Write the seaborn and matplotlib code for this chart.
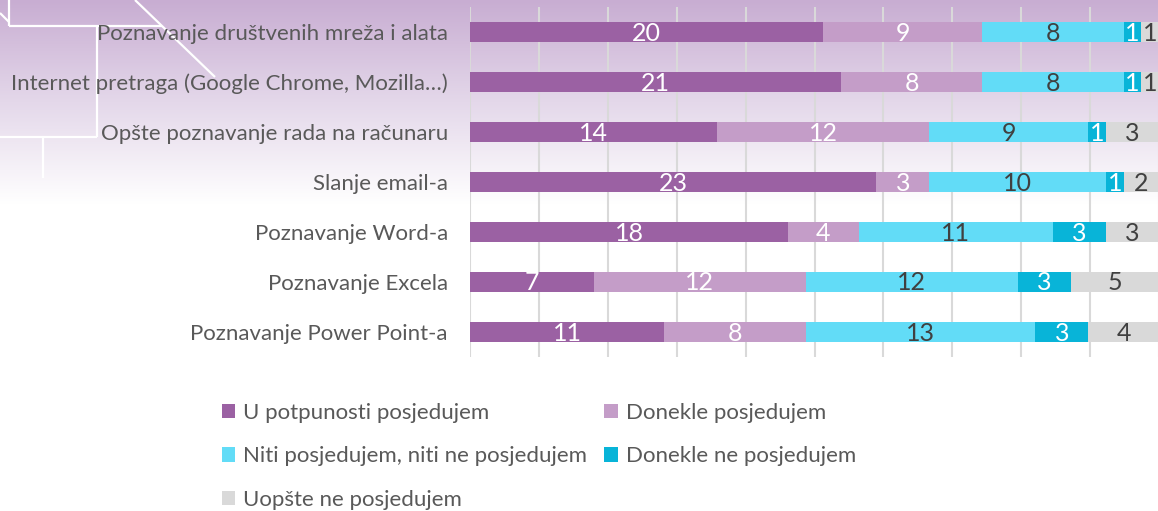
import matplotlib
matplotlib.use("Agg")
import matplotlib.pyplot as plt
from matplotlib.colors import LinearSegmentedColormap
from matplotlib.patches import Patch
import numpy as np
import pandas as pd
import seaborn as sns

# data
categories = [
    "Poznavanje društvenih mreža i alata",
    "Internet pretraga (Google Chrome, Mozilla…)",
    "Opšte poznavanje rada na računaru",
    "Slanje email-a",
    "Poznavanje Word-a",
    "Poznavanje Excela",
    "Poznavanje Power Point-a",
]
series_names = [
    "U potpunosti posjedujem",
    "Donekle posjedujem",
    "Niti posjedujem, niti ne posjedujem",
    "Donekle ne posjedujem",
    "Uopšte ne posjedujem",
]
u_potpunosti = [20, 21, 14, 23, 18, 7, 11]
donekle = [9, 8, 12, 3, 4, 12, 8]
niti_niti = [8, 8, 9, 10, 11, 12, 13]
donekle_ne = [1, 1, 1, 1, 3, 3, 3]
uopste_ne = [1, 1, 3, 2, 3, 5, 4]

colors = ["#9B61A3", "#C49DC8", "#62DCF7", "#08B4D8", "#D9D9D9"]
label_colors = ["white", "white", "#404040", "white", "#404040"]

df = pd.DataFrame(
    dict(zip(series_names, [u_potpunosti, donekle, niti_niti, donekle_ne, uopste_ne])),
    index=categories,
)
cum = df.cumsum(axis=1)
total = cum.iloc[:, -1].max()

sns.set_theme(style="white")
plt.rcParams["font.family"] = ["Lato", "DejaVu Sans"]

W, H = 1158, 511
fig = plt.figure(figsize=(W / 100, H / 100), dpi=100)

# background: purple fade at the top plus the white outline decoration
bg = fig.add_axes([0, 0, 1, 1], zorder=-10)
cmap = LinearSegmentedColormap.from_list("fade", ["#C8ADD2", "#E4D8EA", "#FFFFFF"])
grad = np.clip(np.linspace(0, 1, H) / 0.40, 0, 1)[:, None]
bg.imshow(np.tile(grad, (1, 4)), aspect="auto", cmap=cmap, extent=[0, W, H, 0])
deco = [
    ([135, 215], [0, 77]),
    ([9, 162], [26, 26]),
    ([9, 9], [0, 26]),
    ([0, 9], [13, 22]),
    ([97, 97], [26, 137]),
    ([0, 97], [137, 137]),
    ([43, 43], [137, 178]),
]
for xs, ys in deco:
    bg.plot(xs, ys, color="white", lw=1.6, solid_capstyle="butt")
bg.set_xlim(0, W)
bg.set_ylim(H, 0)
bg.axis("off")

ax = fig.add_axes([470 / W, 1 - 357 / H, 689 / W, 350 / H])
ax.set_facecolor("none")

# stacked bars: draw cumulative totals back to front
for i in range(len(series_names) - 1, -1, -1):
    sns.barplot(
        x=cum.iloc[:, i].values, y=categories, color=colors[i], orient="y",
        width=0.4, saturation=1, ax=ax, zorder=3, linewidth=0,
    )

for i, name in enumerate(series_names):
    mids = cum.iloc[:, i] - df.iloc[:, i] / 2
    for j, (m, v) in enumerate(zip(mids, df.iloc[:, i])):
        ax.text(m, j + 0.02, str(v), ha="center", va="center", fontsize=18,
                color=label_colors[i], zorder=5)

ax.set_xlim(0, total)
ax.set_xticks(np.linspace(0, total, 11))
ax.set_xticklabels([])
ax.grid(axis="x", color="#D9D9D9", lw=1.5, zorder=0)
ax.set_xlabel("")
ax.set_ylabel("")
ax.tick_params(axis="y", length=0, pad=16, labelsize=16, labelcolor="#595959")
ax.tick_params(axis="x", length=0)
for side in ["top", "right", "bottom", "left"]:
    ax.spines[side].set_visible(False)

# legend filled row-wise in the reference
order = [0, 2, 4, 1, 3]
handles = [Patch(facecolor=colors[k], edgecolor="none") for k in order]
labels = [series_names[k] for k in order]
fig.legend(
    handles, labels, ncol=2, loc="upper left", bbox_to_anchor=(202 / W, 1 - 383 / H),
    frameon=False, fontsize=16, labelcolor="#595959",
    handlelength=0.6, handleheight=0.6, handletextpad=0.35,
    labelspacing=1.05, columnspacing=0.78,
)

fig.savefig("out.png", dpi=100)
